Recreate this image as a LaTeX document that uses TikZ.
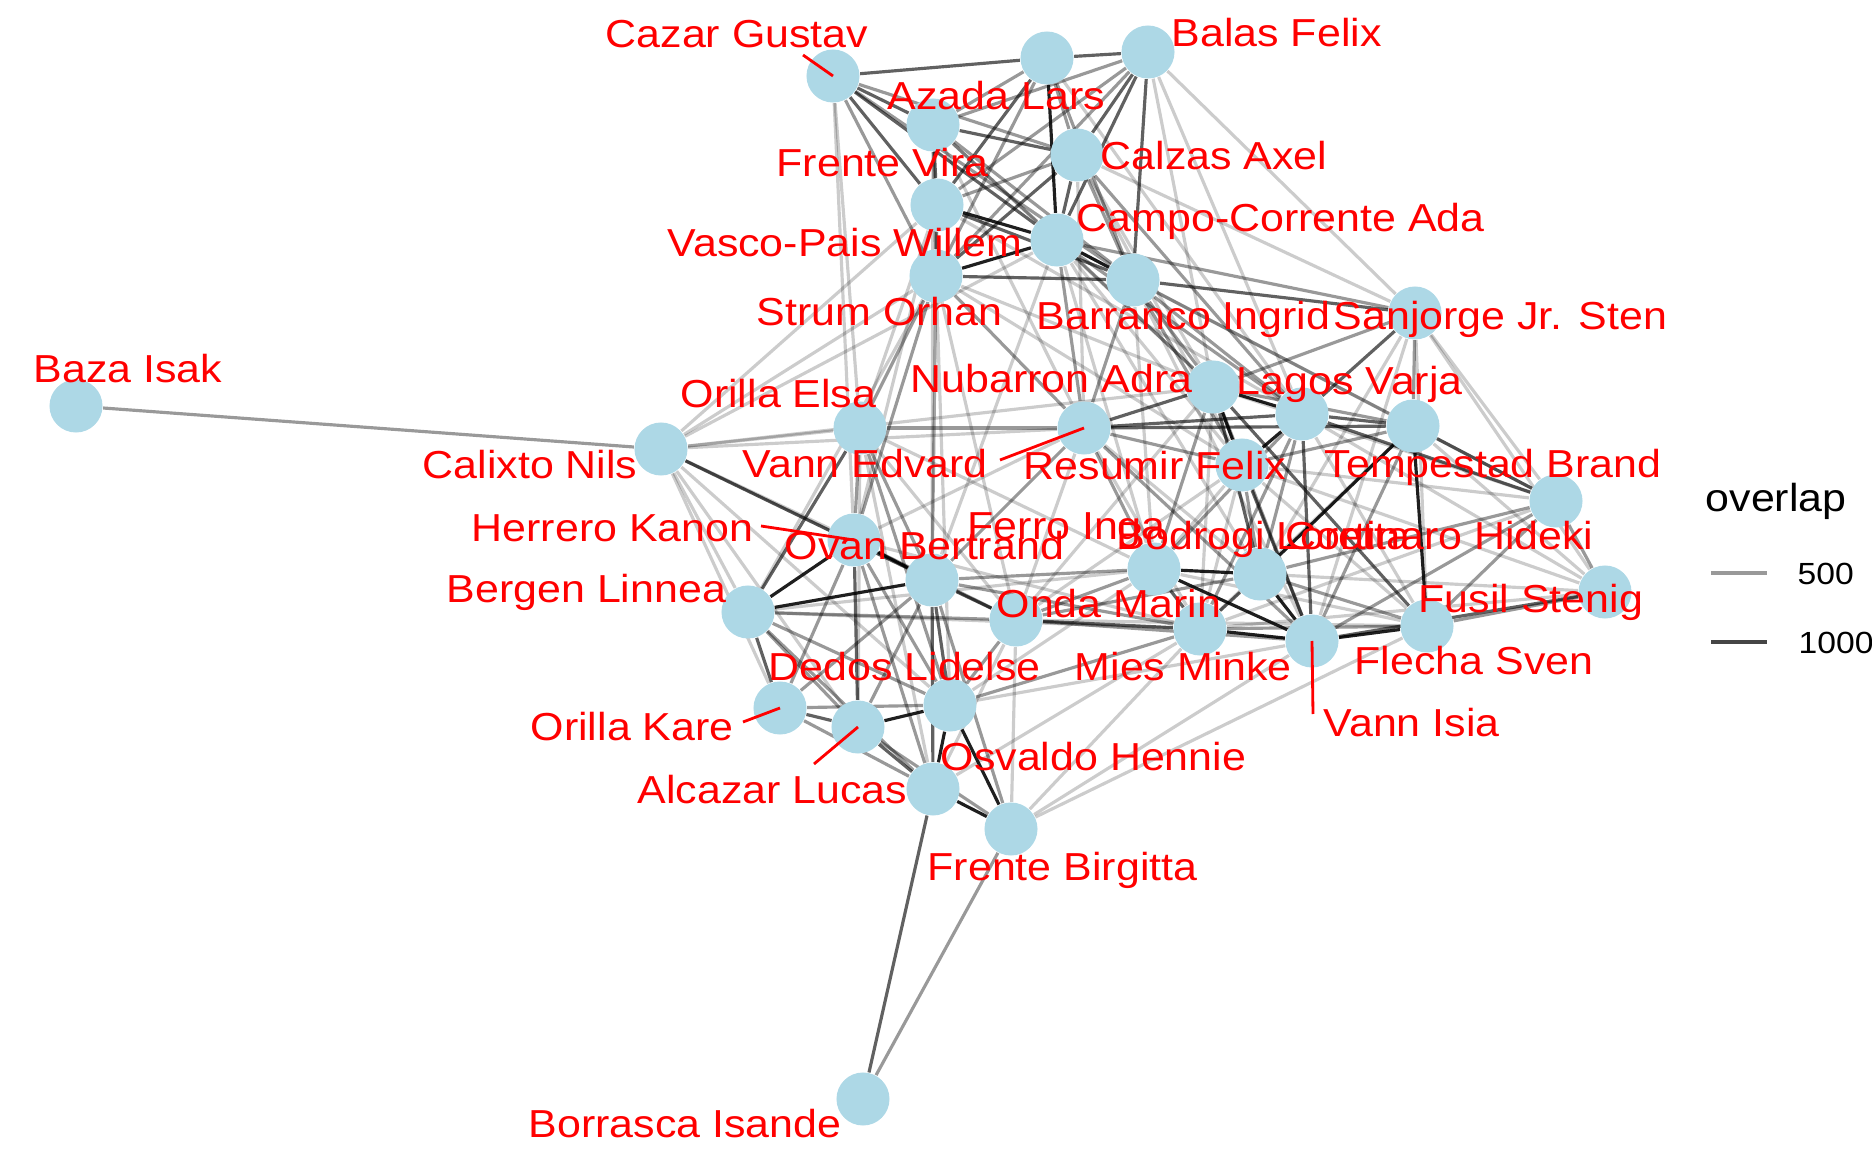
\documentclass[tikz,border=0pt]{standalone}
\usepackage{fontspec}
\setmainfont{Liberation Sans}[FakeStretch=1.1]
\definecolor{nodeblue}{HTML}{ADD8E6}
\pgfdeclarelayer{background}
\pgfsetlayers{background,main}

\begin{document}
\begin{tikzpicture}[x=0.01cm,y=-0.01cm]
    \tikzstyle{vertex}=[circle,fill=nodeblue,minimum size=0.53cm,inner sep=0pt]
    \tikzstyle{person}=[text=red,anchor=base west,inner sep=0pt,font=\fontsize{11.1}{13}\selectfont]
    \tikzstyle{repel}=[draw=red,line width=0.8pt]
    \tikzstyle{link}=[draw=black,line width=0.9pt]
    \tikzstyle{w1}=[link,draw opacity=0.2]
    \tikzstyle{w2}=[link,draw opacity=0.4]
    \tikzstyle{w3}=[link,draw opacity=0.62]
    \tikzstyle{w4}=[link,draw opacity=0.88]
    \tikzstyle{keytext}=[anchor=base west,inner sep=0pt]

    \useasboundingbox (0,0) rectangle (1872,1152);

    % Draw the people
    \foreach \name/\x/\y in {a/833/76, b/1047/58, c/1148/52, d/933/125, e/1077/155,
        f/937/205, g/1057/240, h/936/276, i/1133/280, j/1415/313, k/76/406,
        l/661/449, m/860/428, n/1084/428, o/1213/387, p/1302/414, q/1413/426,
        r/1242/465, s/1556/501, t/854/540, u/932/580, v/748/612, w/1154/569,
        x/1260/574, y/1016/620, z/1200/629, A/1312/641, B/1427/626, C/1605/592,
        D/780/708, E/858/727, F/950/705, G/933/789, H/1011/829, I/863/1099}
        \node[vertex] (n-\name) at (\x,\y) {};

    % Connect the people, darker for more overlap
    \begin{pgfonlayer}{background}
    \foreach \s/\t in {c/j, e/j, c/p, e/o, g/q, i/q, i/s, g/r, d/o, f/p, h/o, h/r,
        f/m, h/l, f/l, f/t, h/u, h/v, a/m, a/t, d/u, g/u, i/w, g/w, h/y, f/u, h/F,
        e/n, e/r, n/x, n/y, n/z, n/t, n/l, o/z, o/s, o/y, p/B, p/C, q/C, q/z, r/w,
        r/z, r/B, r/s, r/y, s/j, s/z, w/B, x/C, y/B, z/C, A/j, B/j, C/j, l/m, l/t,
        l/v, l/D, l/E, l/F, l/y, l/o, l/g, m/E, m/y, m/G, t/z, v/z, v/w, G/y, G/z,
        H/z, H/A, H/B, H/y, F/A, F/w, j/x, r/C, d/n, b/p, c/o, m/w, i/A, g/x}
        \draw[w1] (n-\s) -- (n-\t);
    \foreach \s/\t in {a/e, a/h, a/i, b/d, b/e, b/h, b/i, c/d, c/f, c/h, d/g, d/h,
        d/i, e/f, e/i, f/h, g/o, g/p, g/j, g/n, i/o, i/p, i/n, i/r, h/m, h/n, h/t,
        e/p, n/r, n/w, n/A, n/u, n/m, o/q, o/w, o/A, o/j, p/x, p/w, p/z, q/j, q/r,
        q/A, r/x, s/C, s/B, s/A, s/x, w/y, w/u, x/B, x/y, y/A, y/t, y/v, z/B, B/C,
        l/k, m/u, m/t, m/F, t/D, t/F, t/G, u/D, u/E, u/H, u/z, v/E, v/F, v/G,
        D/F, D/G, E/H, F/y, F/z, H/I}
        \draw[w2] (n-\s) -- (n-\t);
    \foreach \s/\t in {a/b, b/c, a/d, a/f, a/g, b/f, c/e, c/g, c/i, d/e, d/f, e/g,
        f/i, h/i, i/j, n/o, n/p, n/q, o/x, o/B, p/q, p/s, p/A, p/j, q/s, r/A, v/m,
        l/u, u/y, u/F, u/G, x/z, y/z, A/C, G/I, D/E, E/G, v/D, w/z, e/h, t/E}
        \draw[w3] (n-\s) -- (n-\t);
    \foreach \s/\t in {f/g, g/i, g/h, b/g, o/p, o/r, p/r, q/B, q/x, w/x, w/A, x/A,
        z/A, A/B, v/t, v/u, t/u, E/F, F/H, G/H, F/G}
        \draw[w4] (n-\s) -- (n-\t);
    \end{pgfonlayer}

    % Repel segments
    \coordinate (s-a) at (803,55);
    \coordinate (s-n) at (1000,460);
    \coordinate (s-t) at (761,526);
    \coordinate (s-A) at (1313,714);
    \coordinate (s-D) at (743,722);
    \coordinate (s-E) at (814,764);
    \foreach \name in {a,n,t,A,D,E}
        \draw[repel] (s-\name) -- (n-\name.center);

    % Annotate the people
    \foreach \name/\x/\y/\txt in {a/605/48/Cazar Gustav, c/1171/47/Balas Felix,
        b/887/110/Azada Lars, d/776/177/Frente Vira, e/1100/170/Calzas Axel,
        g/1076/232/Campo-Corrente Ada, f/667/257/Vasco-Pais Willem,
        h/756/326/Strum Orhan, i/1036/330/Barranco Ingrid,
        j/1333/330/Sanjorge Jr. Sten, k/33/383/Baza Isak, m/680/408/Orilla Elsa,
        o/910/393/Nubarron Adra, p/1236/395/Lagos Varja, l/422/479/Calixto Nils,
        n/742/478/Vann Edvard, r/1023/480/Resumir Felix,
        q/1324/478/Tempestad Brand, t/471/542/Herrero Kanon,
        u/784/560/Ovan Bertrand, w/967/540/Ferro Inga,
        x/1116/550/Bodrogi Loretta, s/1285/550/Cortinaro Hideki,
        v/446/603/Bergen Linnea, y/996/618/Onda Marin, C/1418/613/Fusil Stenig,
        z/1074/680/Mies Minke, B/1354/675/Flecha Sven, F/768/680/Dedos Lidelse,
        D/530/740/Orilla Kare, A/1323/737/Vann Isia, G/940/770/Osvaldo Hennie,
        E/637/803/Alcazar Lucas, H/927/880/Frente Birgitta,
        I/528/1137/Borrasca Isande}
        \node[person] (l-\name) at (\x,\y) {\txt};

    % Legend
    \node[keytext,font=\fontsize{11.1}{13}\selectfont] (lg-title) at (1705,512) {overlap};
    \coordinate (lg-a1) at (1711,573);
    \coordinate (lg-a2) at (1767,573);
    \coordinate (lg-b1) at (1711,642);
    \coordinate (lg-b2) at (1767,642);
    \draw[line width=0.95pt,black!40] (lg-a1) -- (lg-a2);
    \draw[line width=0.95pt,black!73] (lg-b1) -- (lg-b2);
    \node[keytext,font=\fontsize{8.7}{10}\selectfont] (lg-500) at (1797,585) {500};
    \node[keytext,font=\fontsize{8.7}{10}\selectfont] (lg-1000) at (1798,653) {1000};
\end{tikzpicture}
\end{document}
